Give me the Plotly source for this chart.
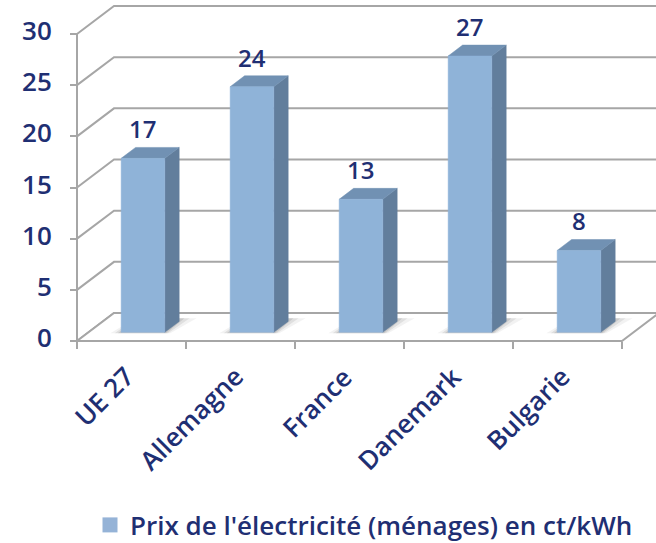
import plotly.graph_objects as go

# ---------------- data ----------------
categories = ["UE 27", "Allemagne", "France", "Danemark", "Bulgarie"]
values = [17, 24, 13, 27, 8]
y_ticks = [0, 5, 10, 15, 20, 25, 30]
series_name = "Prix de l'électricité (ménages) en ct/kWh"

# ---------------- styling / projection ----------------
TEXT = "#1F2F73"
GRID = "#A6A6A6"
FRONT = "#8FB3D8"
SIDE = "#627E9C"
TOP = "#7191B3"
FONT = "Open Sans"

PX_X = 109.0          # pixels per category
PX_Y = 307.0 / 30.0   # pixels per value unit
DX = 37.0 / PX_X      # depth offset (category units)
DY = 28.0 / PX_Y      # depth offset (value units)
D0, D1 = 0.31, 0.70   # bar depth range (fraction of full depth)
HALF = 0.2            # half bar width

n = len(categories)
X0, X1 = -0.5, n - 0.5
VMAX = max(y_ticks)

fig = go.Figure()

# back wall + side wall gridlines
gx, gy = [], []
for v in y_ticks:
    gx += [X0, X0 + DX, X1 + DX + 1, None]
    gy += [v, v + DY, v + DY, None]
fig.add_trace(go.Scatter(x=gx, y=gy, mode="lines", line=dict(color=GRID, width=2),
                         hoverinfo="skip", showlegend=False))

# floor
fig.add_trace(go.Scatter(x=[X0, X1, X1 + DX, X0 + DX, X0], y=[0, 0, DY, DY, 0],
                         mode="lines", fill="toself", fillcolor="white",
                         line=dict(color=GRID, width=2), hoverinfo="skip", showlegend=False))

# front vertical axis line
fig.add_trace(go.Scatter(x=[X0, X0], y=[0, VMAX], mode="lines",
                         line=dict(color=GRID, width=2), hoverinfo="skip", showlegend=False))

ox, oy = (D1 - D0) * DX, (D1 - D0) * DY
for i, v in enumerate(values):
    xf0 = i - HALF + D0 * DX
    xf1 = i + HALF + D0 * DX
    yb = D0 * DY
    yt = v + D0 * DY
    # shadows
    for pad, alpha in [(0.10, 0.05), (0.06, 0.08), (0.03, 0.10)]:
        fig.add_trace(go.Scatter(
            x=[xf0 - pad, xf1 + pad * 0.5, xf1 + ox + pad * 1.6, xf0 + ox, xf0 - pad],
            y=[yb - 0.1, yb - 0.1, yb + oy + 0.3, yb + oy + 0.3, yb - 0.1],
            mode="lines", fill="toself", fillcolor=f"rgba(0,0,0,{alpha})",
            line=dict(width=0), hoverinfo="skip", showlegend=False))
    # side face
    fig.add_trace(go.Scatter(x=[xf1, xf1 + ox, xf1 + ox, xf1, xf1],
                             y=[yb, yb + oy, yt + oy, yt, yb],
                             mode="lines", fill="toself", fillcolor=SIDE,
                             line=dict(color=SIDE, width=0.5), hoverinfo="skip", showlegend=False))
    # top face
    fig.add_trace(go.Scatter(x=[xf0, xf1, xf1 + ox, xf0 + ox, xf0],
                             y=[yt, yt, yt + oy, yt + oy, yt],
                             mode="lines", fill="toself", fillcolor=TOP,
                             line=dict(color=TOP, width=0.5), hoverinfo="skip", showlegend=False))
    # front face
    fig.add_trace(go.Scatter(x=[xf0, xf1, xf1, xf0, xf0],
                             y=[yb, yb, yt, yt, yb],
                             mode="lines", fill="toself", fillcolor=FRONT,
                             line=dict(color=FRONT, width=0.5),
                             name=categories[i], hovertemplate=f"{categories[i]}: {v}<extra></extra>",
                             showlegend=False))
    # data label
    fig.add_annotation(x=(xf0 + xf1) / 2, y=yt, xref="x", yref="y", text=str(v),
                       showarrow=False, yanchor="bottom", yshift=11,
                       font=dict(family=FONT, size=24, color=TEXT, weight=600))

# category labels
for i, c in enumerate(categories):
    fig.add_annotation(x=i, y=0, xref="x", yref="y", text=c, showarrow=False,
                       textangle=-45, xanchor="right", yanchor="top", xshift=13, yshift=-15,
                       font=dict(family=FONT, size=26, color=TEXT, weight=600))

# legend entry
fig.add_trace(go.Scatter(x=[None], y=[None], mode="markers", name=series_name,
                         marker=dict(symbol="square", size=15, color="#95B3D7"),
                         showlegend=True))

W, H = 656, 543
L, R, T, B = 70, 0, 0, 198
pw, ph = W - L - R, H - T - B

fig.update_layout(
    width=W, height=H,
    margin=dict(l=L, r=R, t=T, b=B, autoexpand=False),
    paper_bgcolor="white", plot_bgcolor="white",
    showlegend=True,
    legend=dict(orientation="h", x=(90 - L) / pw, xanchor="left",
                y=(ph - 525) / ph, yanchor="middle",
                font=dict(family=FONT, size=26, color=TEXT, weight=600),
                itemsizing="trace"),
    xaxis=dict(range=[X0 - 7 / PX_X, X0 + (W - 77) / PX_X], automargin=False,
               anchor="free", position=4 / ph,
               tickvals=[k - 0.5 for k in range(n + 1)], ticktext=[""] * (n + 1),
               ticks="outside", ticklen=7, tickwidth=2, tickcolor=GRID,
               showgrid=False, zeroline=False, showline=False, fixedrange=True),
    yaxis=dict(range=[-4 / PX_Y, 341 / PX_Y], automargin=False,
               anchor="free", position=7 / pw,
               tickvals=y_ticks, ticks="outside", ticklen=7, tickwidth=2, tickcolor=GRID,
               ticklabelstandoff=13, ticklabelshift=-3,
               tickfont=dict(family=FONT, size=26, color=TEXT, weight=600),
               showgrid=False, zeroline=False, showline=False, fixedrange=True),
)

fig.write_html("out.html", config={"displayModeBar": False},
               post_script="document.body.style.margin='0px';")
